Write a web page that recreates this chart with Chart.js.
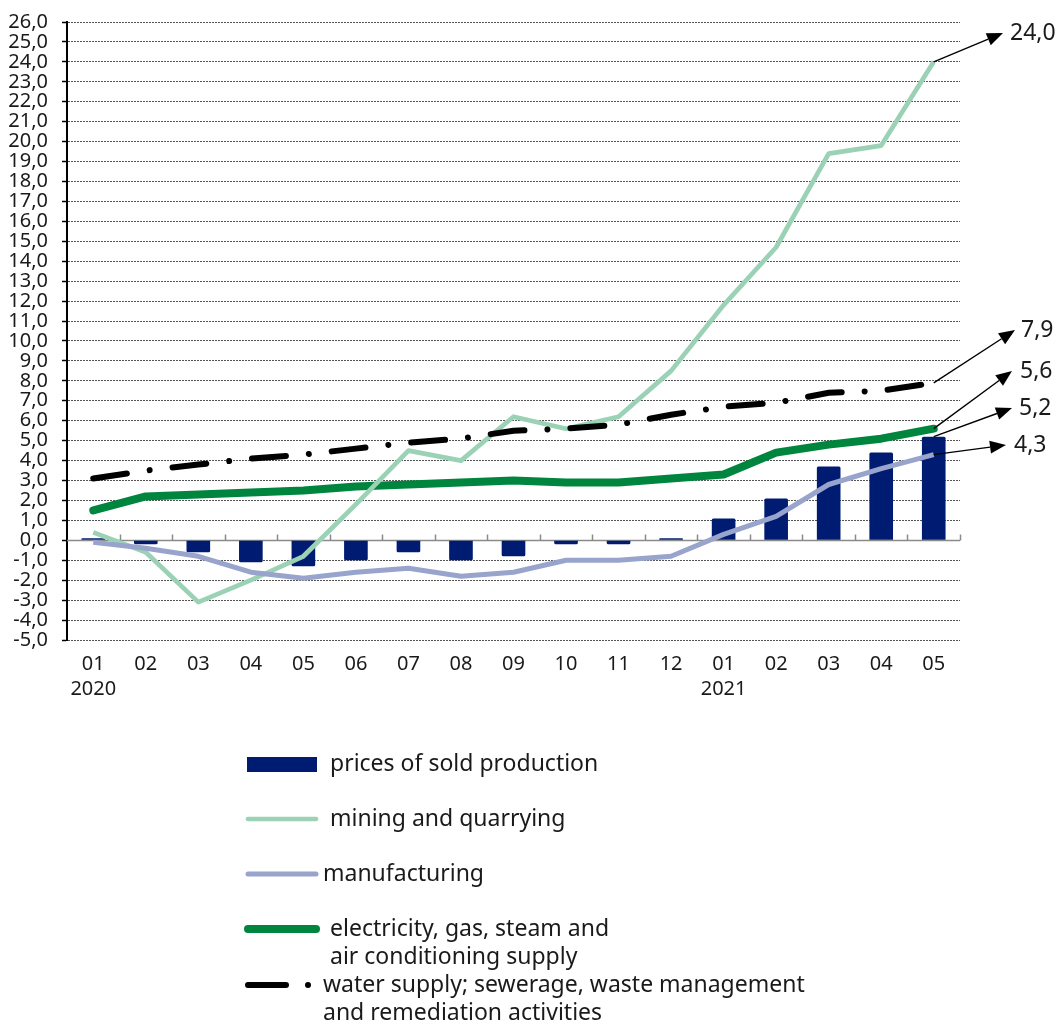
<!DOCTYPE html>
<html>
<head>
<meta charset="utf-8">
<script src="https://cdn.jsdelivr.net/npm/chart.js@4.4.1/dist/chart.umd.min.js"></script>
<style>
  html, body { margin: 0; padding: 0; background: #fff; }
  #wrap { position: relative; width: 1062px; height: 1024px; }
</style>
</head>
<body>
<div id="wrap"><canvas id="chart" width="1062" height="1024"></canvas></div>
<script>
// month labels, 2020-01 .. 2021-05
const monthLabels = [['01', '2020'], '02', '03', '04', '05', '06', '07', '08', '09', '10', '11', '12',
  ['01', '2021'], '02', '03', '04', '05'];

// y-o-y change, %
const soldProduction = [0.1, -0.2, -0.6, -1.1, -1.3, -1.0, -0.6, -1.0, -0.8, -0.2, -0.2, 0.1, 1.1, 2.1, 3.7, 4.4, 5.2];
const mining = [0.4, -0.6, -3.1, -2.0, -0.8, 1.8, 4.5, 4.0, 6.2, 5.6, 6.2, 8.5, 11.8, 14.7, 19.4, 19.8, 24.0];
const manufacturing = [-0.1, -0.4, -0.8, -1.6, -1.9, -1.6, -1.4, -1.8, -1.6, -1.0, -1.0, -0.8, 0.3, 1.2, 2.8, 3.6, 4.3];
const electricity = [1.5, 2.2, 2.3, 2.4, 2.5, 2.7, 2.8, 2.9, 3.0, 2.9, 2.9, 3.1, 3.3, 4.4, 4.8, 5.1, 5.6];
const water = [3.1, 3.5, 3.8, 4.1, 4.3, 4.6, 4.9, 5.1, 5.5, 5.6, 5.8, 6.3, 6.7, 6.9, 7.4, 7.5, 7.9];

const yMin = -5;
const yMax = 26;

const FONT = '"Noto Sans", "DejaVu Sans", sans-serif';
const TEXT = '#1a1a1a';
const COLORS = {
  bar: '#001c72',
  mining: '#9bd2b6',
  manufacturing: '#99a4cc',
  electricity: '#00853e',
  water: '#000000'
};

const fmt = v => v.toFixed(1).replace('.', ',');

// zero line with small tick marks between categories
const zeroLine = {
  id: 'zeroLine',
  beforeDatasetsDraw(chart) {
    const { ctx, chartArea, scales: { y } } = chart;
    const y0 = Math.round(y.getPixelForValue(0)) + 0.5;
    ctx.save();
    ctx.strokeStyle = '#8a8a8a';
    ctx.lineWidth = 1.5;
    ctx.beginPath();
    ctx.moveTo(chartArea.left, y0);
    ctx.lineTo(chartArea.right, y0);
    const step = (chartArea.right - chartArea.left) / monthLabels.length;
    for (let i = 1; i <= monthLabels.length; i++) {
      const px = Math.round(chartArea.left + i * step) + 0.5;
      ctx.moveTo(px, y0);
      ctx.lineTo(px, y0 - 6);
    }
    ctx.stroke();
    ctx.restore();
  }
};

// arrows from the last value to its label on the right
const callouts = {
  id: 'callouts',
  afterDatasetsDraw(chart, args, opts) {
    const { ctx, scales: { x, y } } = chart;
    const last = monthLabels.length - 1;
    ctx.save();
    opts.items.forEach(item => {
      const val = chart.data.datasets[item.ds].data[last];
      const sx = x.getPixelForValue(last);
      const sy = y.getPixelForValue(val);
      const [tx, ty] = item.tip;
      const ang = Math.atan2(ty - sy, tx - sx);
      const hl = 16, hw = 6.5;
      const bx = tx - hl * Math.cos(ang), by = ty - hl * Math.sin(ang);
      ctx.strokeStyle = '#000';
      ctx.lineWidth = 1.4;
      ctx.beginPath();
      ctx.moveTo(sx, sy);
      ctx.lineTo(bx, by);
      ctx.stroke();
      ctx.fillStyle = '#000';
      ctx.beginPath();
      ctx.moveTo(tx, ty);
      ctx.lineTo(bx + hw * Math.sin(ang), by - hw * Math.cos(ang));
      ctx.lineTo(bx - hw * Math.sin(ang), by + hw * Math.cos(ang));
      ctx.closePath();
      ctx.fill();
      ctx.font = '23px ' + FONT;
      ctx.fillStyle = TEXT;
      ctx.textBaseline = 'middle';
      ctx.textAlign = 'left';
      ctx.fillText(fmt(val), item.textX, ty);
    });
    ctx.restore();
  }
};

// legend below the plot
const legendLines = {
  id: 'legendLines',
  afterDraw(chart, args, opts) {
    const { ctx } = chart;
    const ds = chart.data.datasets;
    ctx.save();
    ctx.font = '23px ' + FONT;
    ctx.fillStyle = TEXT;
    ctx.textBaseline = 'middle';
    ctx.textAlign = 'left';
    opts.items.forEach(item => {
      const d = ds[item.ds];
      ctx.save();
      if (item.kind === 'box') {
        ctx.fillStyle = d.backgroundColor;
        ctx.fillRect(247, item.y - 7, 70, 15);
      } else {
        ctx.strokeStyle = d.borderColor;
        ctx.lineWidth = d.borderWidth;
        ctx.lineCap = 'round';
        ctx.beginPath();
        if (item.kind === 'dash') {
          ctx.moveTo(248, item.y);
          ctx.lineTo(286, item.y);
          ctx.moveTo(308, item.y);
          ctx.lineTo(308.01, item.y);
        } else {
          ctx.moveTo(248, item.y);
          ctx.lineTo(316, item.y);
        }
        ctx.stroke();
      }
      ctx.restore();
      item.lines.forEach((t, i) => ctx.fillText(t, item.textX, item.y + i * 28));
    });
    ctx.restore();
  }
};

const ctx = document.getElementById('chart').getContext('2d');
new Chart(ctx, {
  type: 'bar',
  data: {
    labels: monthLabels,
    datasets: [
      { label: 'prices of sold production', data: soldProduction, backgroundColor: COLORS.bar,
        barPercentage: 0.45, categoryPercentage: 1, borderRadius: 1.5, order: 5 },
      { type: 'line', label: 'mining and quarrying', data: mining, borderColor: COLORS.mining,
        borderWidth: 4.7, pointRadius: 0, tension: 0, borderJoinStyle: 'round', order: 3 },
      { type: 'line', label: 'manufacturing', data: manufacturing, borderColor: COLORS.manufacturing,
        borderWidth: 5, pointRadius: 0, tension: 0, borderJoinStyle: 'round', order: 2 },
      { type: 'line', label: 'electricity, gas, steam and air conditioning supply', data: electricity,
        borderColor: COLORS.electricity, borderWidth: 8, pointRadius: 0, tension: 0,
        borderJoinStyle: 'round', borderCapStyle: 'round', order: 4 },
      { type: 'line', label: 'water supply; sewerage, waste management and remediation activities', data: water,
        borderColor: COLORS.water, borderWidth: 6, pointRadius: 0, tension: 0,
        borderDash: [34, 23, 0.01, 23], borderCapStyle: 'round', order: 1 }
    ]
  },
  options: {
    responsive: false,
    animation: false,
    layout: { padding: { top: 22, right: 102, bottom: 314, left: 0 } },
    plugins: {
      legend: { display: false },
      tooltip: { enabled: false },
      callouts: {
        items: [
          { ds: 1, tip: [1003, 33], textX: 1010 },
          { ds: 4, tip: [1015, 330], textX: 1021 },
          { ds: 3, tip: [1012, 371], textX: 1020 },
          { ds: 0, tip: [1012, 408], textX: 1019 },
          { ds: 2, tip: [1006, 445], textX: 1014 }
        ]
      },
      legendLines: {
        items: [
          { ds: 0, kind: 'box', y: 764, textX: 330, lines: ['prices of sold production'] },
          { ds: 1, kind: 'line', y: 819, textX: 330, lines: ['mining and quarrying'] },
          { ds: 2, kind: 'line', y: 874, textX: 323, lines: ['manufacturing'] },
          { ds: 3, kind: 'line', y: 929, textX: 330, lines: ['electricity, gas, steam and', 'air conditioning supply'] },
          { ds: 4, kind: 'dash', y: 985, textX: 323, lines: ['water supply; sewerage, waste management', 'and remediation activities'] }
        ]
      }
    },
    scales: {
      x: {
        grid: { display: false, drawTicks: false },
        border: { display: false },
        ticks: { font: { family: FONT, size: 20, lineHeight: 1.25 }, color: TEXT, padding: 12,
          maxRotation: 0, autoSkip: false },
        afterFit(scale) { scale.height = 70; }
      },
      y: {
        min: yMin,
        max: yMax,
        ticks: { stepSize: 1, autoSkip: false, font: { family: FONT, size: 20 }, color: TEXT, padding: 14,
          callback: v => fmt(v) },
        grid: { color: '#555', lineWidth: 1, tickLength: 5, tickColor: '#000', tickWidth: 1.5 },
        border: { display: true, color: '#000', width: 2, dash: [2, 1] },
        afterFit(scale) {
          scale.width = 67;
          // keep the plot top where the reference has it
          scale.paddingTop = 0;
          scale.paddingBottom = 0;
        }
      }
    }
  },
  plugins: [zeroLine, callouts, legendLines]
});
</script>
</body>
</html>
